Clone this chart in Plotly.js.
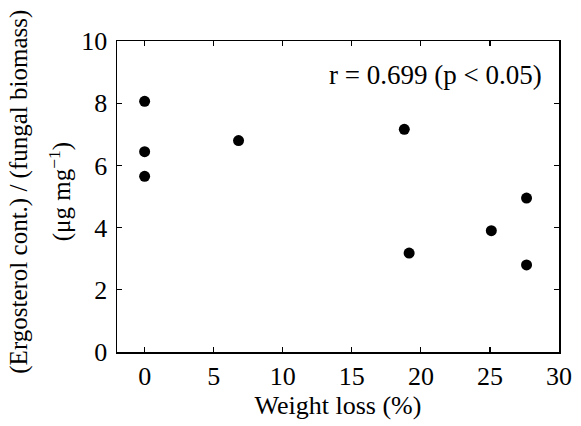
<!DOCTYPE html>
<html>
<head>
<meta charset="utf-8">
<script src="https://cdn.plot.ly/plotly-3.0.1.min.js"></script>
<style>html,body{margin:0;padding:0;background:#fff;}#chart{width:581px;height:426px;}</style>
</head>
<body>
<div id="chart"></div>
<script>
const weightLoss = [0, 0, 0, 6.8, 18.8, 19.15, 25.1, 27.65, 27.65];
const ergosterolRatio = [8.06, 6.44, 5.65, 6.8, 7.16, 3.18, 3.9, 4.95, 2.8];
const xTickVals = [0, 5, 10, 15, 20, 25, 30];
const yTickVals = [0, 2, 4, 6, 8, 10];
const xTitle = 'Weight loss (%)';
const yTitleLine1 = '(Ergosterol cont.) / (fungal biomass)';
const yTitleLine2 = '(μg mg<sup>−1</sup>)';
const statText = 'r = 0.699 (p < 0.05)';

const font = 'Liberation Serif';

const trace = {
  x: weightLoss, y: ergosterolRatio, type: 'scatter', mode: 'markers',
  marker: {color: '#000', size: 11}, cliponaxis: false, hoverinfo: 'none'
};

const axisCommon = {
  showgrid: false, zeroline: false, showline: true, linecolor: '#000', linewidth: 1.5,
  ticks: 'inside', ticklen: 5, tickwidth: 1.2, tickcolor: '#000', mirror: 'ticks',
  tickfont: {family: font, size: 26, color: '#000'}
};

const layout = {
  width: 581, height: 426,
  margin: {l: 117, r: 22, t: 41, b: 74},
  paper_bgcolor: '#fff', plot_bgcolor: '#fff',
  showlegend: false,
  font: {family: font, color: '#000'},
  xaxis: Object.assign({}, axisCommon, {
    range: [-2, 30], tickvals: xTickVals, ticklabelstandoff: 0,
    title: {text: xTitle, font: {family: font, size: 26, color: '#000'}, standoff: 5}
  }),
  yaxis: Object.assign({}, axisCommon, {
    range: [0, 10], tickvals: yTickVals, ticklabelstandoff: 3
  }),
  annotations: [
    {text: statText, xref: 'paper', yref: 'paper', x: 0.966, y: 0.89, xanchor: 'right', yanchor: 'middle',
     showarrow: false, font: {family: font, size: 27, color: '#000'}},
    {text: yTitleLine1, xref: 'paper', yref: 'paper', x: -0.222, y: 0.515, xanchor: 'center', yanchor: 'middle',
     textangle: -90, showarrow: false, font: {family: font, size: 25, color: '#000'}},
    {text: yTitleLine2, xref: 'paper', yref: 'paper', x: -0.128, y: 0.515, xanchor: 'center', yanchor: 'middle',
     textangle: -90, showarrow: false, font: {family: font, size: 25, color: '#000'}}
  ]
};

Plotly.newPlot('chart', [trace], layout, {staticPlot: true, displayModeBar: false});
</script>
</body>
</html>
